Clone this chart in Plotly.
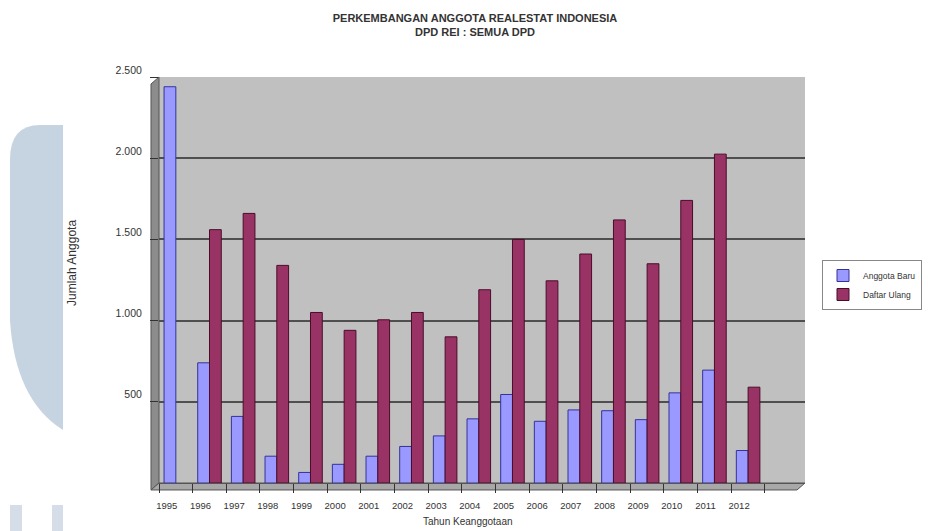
import plotly.graph_objects as go

years = [str(y) for y in range(1995, 2013)]
anggota_baru = [2440, 740, 410, 165, 65, 115, 165, 225, 290, 395, 545, 380, 450, 445, 390, 555, 695, 200]
daftar_ulang = [None, 1560, 1660, 1340, 1050, 940, 1005, 1050, 900, 1190, 1500, 1245, 1410, 1620, 1350, 1740, 2025, 590]
y_ticks = [500, 1000, 1500, 2000, 2500]

W, H = 928, 531
L, R, T, B = 159, 805, 77, 483

def px(x):
    return (x - L) / (R - L)

def py(y):
    return (B - y) / (B - T)

def path(points):
    return "M " + " L ".join(f"{px(x):.4f},{py(y):.4f}" for x, y in points) + " Z"

FONT = "Liberation Sans, Arial, sans-serif"

fig = go.Figure()
fig.add_trace(go.Bar(
    x=years, y=anggota_baru, name="Anggota Baru",
    marker=dict(color="#9999FF", line=dict(color="#333399", width=1)),
))
fig.add_trace(go.Bar(
    x=years, y=daftar_ulang, name="Daftar Ulang",
    marker=dict(color="#993366", line=dict(color="#4a0d28", width=1)),
))

shapes = []
# watermark
wm = "M {a},{b} L {c},{d} Q {e},{f} {g},{h} L {i},{j} Q {k},{l} {m},{n} Z".format(
    a=f"{px(63):.4f}", b=f"{py(125):.4f}",
    c=f"{px(40):.4f}", d=f"{py(125):.4f}",
    e=f"{px(10):.4f}", f=f"{py(125):.4f}",
    g=f"{px(10):.4f}", h=f"{py(160):.4f}",
    i=f"{px(10):.4f}", j=f"{py(320):.4f}",
    k=f"{px(15):.4f}", l=f"{py(400):.4f}",
    m=f"{px(63):.4f}", n=f"{py(430):.4f}",
)
shapes.append(dict(type="path", xref="paper", yref="paper", path=wm,
                   fillcolor="#C6D4E1", line=dict(width=0), layer="below"))
for x0, x1 in [(10, 22), (52, 63)]:
    shapes.append(dict(type="rect", xref="paper", yref="paper",
                       x0=px(x0), x1=px(x1), y0=py(531), y1=py(505),
                       fillcolor="#D5DEE8", line=dict(width=0), layer="below"))
# left side wall
shapes.append(dict(type="path", xref="paper", yref="paper",
                   path=path([(159, 77), (151, 84), (151, 490), (159, 483)]),
                   fillcolor="#8C8C8C", line=dict(color="#555555", width=1), layer="below"))
# floor
shapes.append(dict(type="path", xref="paper", yref="paper",
                   path=path([(159, 483), (151, 490), (797, 490), (805, 483)]),
                   fillcolor="#A8A8A8", line=dict(color="#555555", width=1), layer="below"))

fig.update_layout(
    width=W, height=H,
    margin=dict(l=L, r=W - R, t=T, b=H - B, pad=0, autoexpand=False),
    paper_bgcolor="white",
    plot_bgcolor="#C0C0C0",
    separators=",.",
    barmode="group",
    bargap=0.3,
    bargroupgap=0.0,
    font=dict(family=FONT, size=9, color="#333333"),
    title=dict(
        text="<b>PERKEMBANGAN ANGGOTA REALESTAT INDONESIA<br>DPD REI : SEMUA DPD</b>",
        x=475 / W, xanchor="center", y=1 - 22 / H, yanchor="top",
        font=dict(family=FONT, size=11, color="#333333"),
    ),
    xaxis=dict(
        type="category",
        range=[-0.5, 18.69],
        showgrid=False,
        ticks="outside", ticklen=9, tickcolor="#333333",
        tickson="boundaries",
        ticklabelshift=-9,
        ticklabelstandoff=14,
        tickfont=dict(size=9.5),
        showline=True, linecolor="#555555", linewidth=1,
    ),
    yaxis=dict(
        range=[0, 2500],
        tickvals=y_ticks,
        tickformat=",d",
        showgrid=True, gridcolor="#4F4F4F", gridwidth=1.5,
        zeroline=False,
        ticks="outside", ticklen=8, tickcolor="#333333",
        ticklabelshift=-7,
        ticklabelstandoff=6,
        tickfont=dict(size=10.5),
        showline=False,
    ),
    legend=dict(
        x=px(822), xanchor="left",
        y=py(285), yanchor="middle",
        bgcolor="white", bordercolor="#888888", borderwidth=1,
        font=dict(size=8.5),
        itemwidth=30,
        tracegroupgap=0,
    ),
    shapes=shapes,
    annotations=[
        dict(text="Jumlah Anggota", xref="paper", yref="paper",
             x=px(72), y=py(263), textangle=-90, showarrow=False,
             xanchor="center", yanchor="middle", font=dict(size=12)),
        dict(text="Tahun Keanggotaan", xref="paper", yref="paper",
             x=px(468), y=py(521), showarrow=False,
             xanchor="center", yanchor="middle", font=dict(size=10)),
    ],
)

fig.write_html("out.html")
